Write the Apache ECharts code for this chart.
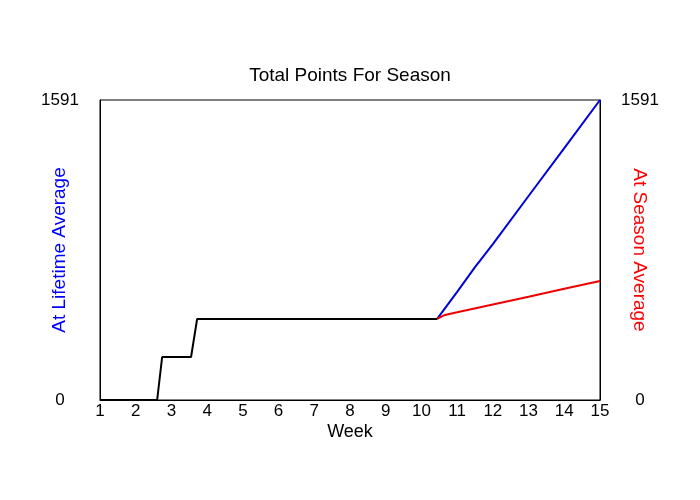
<!DOCTYPE html>
<html>
<head>
<meta charset="utf-8">
<script src="https://cdn.jsdelivr.net/npm/echarts@6/dist/echarts.min.js"></script>
<style>html,body{margin:0;padding:0;background:#fff;}#chart{width:700px;height:500px;}</style>
</head>
<body>
<div id="chart"></div>
<script>
var weekTicks = [1,2,3,4,5,6,7,8,9,10,11,12,13,14,15];
var yMax = 1591;
var actualWeeks = [1, 2.6, 2.74, 3.55, 3.72, 10.44];
var actualPoints = [0, 0, 228, 228, 430, 430];
var lifetimeWeeks = [10.44, 11, 11.5, 12, 13, 14, 15];
var lifetimePoints = [430, 573, 705, 827, 1082, 1336, 1591];
var seasonWeeks = [10.44, 10.66, 11, 12, 13, 14, 15];
var seasonPoints = [430, 451, 465, 507, 548, 590, 631];

function pairs(xs, ys){ return xs.map(function(x,i){return [x, ys[i]];}); }

var font = 'Liberation Sans, Arial, sans-serif';
var chart = echarts.init(document.getElementById('chart'));
chart.setOption({
  animation: false,
  backgroundColor: '#fff',
  title: {
    text: 'Total Points For Season', left: 'center', top: 61,
    textStyle: {fontFamily: font, fontSize: 19, fontWeight: 'normal', color: '#000'}
  },
  grid: {left: 100, right: 100, top: 100, bottom: 100, show: true, borderColor: '#000', borderWidth: 1},
  xAxis: {
    type: 'value', min: 1, max: 15, interval: 1,
    name: 'Week', nameLocation: 'middle', nameGap: 23, nameMoveOverlap: false,
    nameTextStyle: {fontFamily: font, fontSize: 18, color: '#000'},
    axisLine: {show: true, lineStyle: {color: '#000', width: 1}},
    axisTick: {show: false}, splitLine: {show: false},
    axisLabel: {fontFamily: font, fontSize: 17, color: '#000', margin: 3,
      formatter: function(v){ return weekTicks.indexOf(v) >= 0 ? String(v) : ''; }}
  },
  yAxis: [
    {
      type: 'value', min: 0, max: yMax, interval: yMax, position: 'left',
      name: 'At Lifetime Average', nameLocation: 'middle', nameGap: 31, nameRotate: 90, nameMoveOverlap: false,
      nameTextStyle: {fontFamily: font, fontSize: 19, color: '#0000ff'},
      axisLine: {show: true, lineStyle: {color: '#000'}},
      axisTick: {show: false}, splitLine: {show: false},
      axisLabel: {fontFamily: font, fontSize: 17, color: '#000', margin: 40, align: 'center',
        formatter: function(v){ return String(v); }}
    },
    {
      type: 'value', min: 0, max: yMax, interval: yMax, position: 'right',
      name: 'At Season Average', nameLocation: 'middle', nameGap: 30, nameRotate: -90, nameMoveOverlap: false,
      nameTextStyle: {fontFamily: font, fontSize: 19, color: '#ff0000'},
      axisLine: {show: true, lineStyle: {color: '#000'}},
      axisTick: {show: false}, splitLine: {show: false},
      axisLabel: {fontFamily: font, fontSize: 17, color: '#000', margin: 40, align: 'center',
        formatter: function(v){ return String(v); }}
    }
  ],
  series: [
    {type: 'line', data: pairs(lifetimeWeeks, lifetimePoints), showSymbol: false, lineStyle: {color: '#0000dd', width: 2}, z: 2},
    {type: 'line', data: pairs(seasonWeeks, seasonPoints), showSymbol: false, lineStyle: {color: '#ee0000', width: 2}, z: 2},
    {type: 'line', data: pairs(actualWeeks, actualPoints), showSymbol: false, lineStyle: {color: '#000', width: 2}, z: 3}
  ]
});
</script>
</body>
</html>
